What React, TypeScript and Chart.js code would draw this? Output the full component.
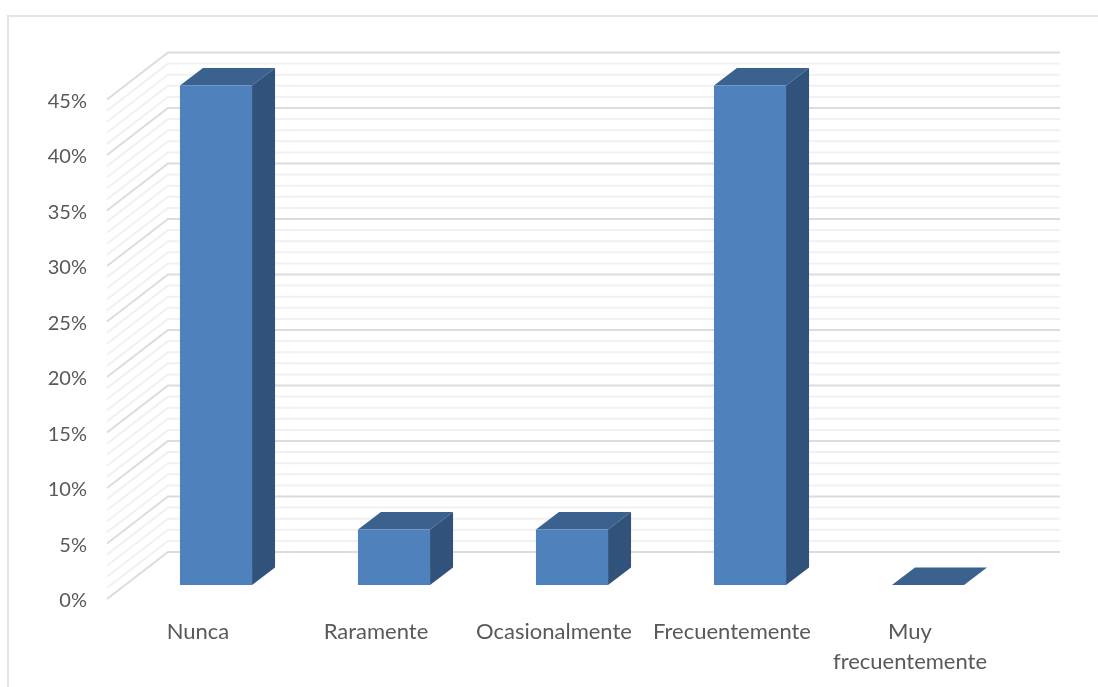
import React, { useEffect, useRef } from "react";
import { Chart, registerables } from "chart.js";

Chart.register(...registerables);

const categories = ["Nunca", "Raramente", "Ocasionalmente", "Frecuentemente", ["Muy", "frecuentemente"]];
const shares = [45, 5, 5, 45, 0];
const axisMax = 45;
const majorStep = 5;

const FONT = "Lato, 'Open Sans', sans-serif";
const WALL_X = -2;
const WALL_Y = -2;
const WALL_DX = 61;
const WALL_DY = -47;
const BAR_DX = 18;
const BAR_DY = -16;
const DEPTH_DX = 23;
const DEPTH_DY = -17.5;

// Back and side walls of the 3D plot, with a line for every percentage point.
const wallsPlugin = {
  id: "walls",
  beforeDatasetsDraw(chart: any) {
    const { ctx, chartArea, scales } = chart;
    const left = chartArea.left + WALL_X;
    const right = chartArea.right + WALL_X;
    ctx.save();
    for (let v = 0; v <= axisMax; v++) {
      const y = scales.y.getPixelForValue(v) + WALL_Y;
      const major = v % majorStep === 0;
      ctx.strokeStyle = major ? "#dcdcdc" : "#f1f1f1";
      ctx.lineWidth = 2;
      ctx.beginPath();
      ctx.moveTo(left, y);
      ctx.lineTo(left + WALL_DX, y + WALL_DY);
      ctx.lineTo(right + WALL_DX + 2, y + WALL_DY);
      ctx.stroke();
    }
    ctx.restore();
  },
};

// Shifts the bars into the depth of the plot and adds their top and side faces.
const extrudePlugin = {
  id: "extrude",
  beforeDatasetDraw(chart: any) {
    const { ctx } = chart;
    ctx.save();
    ctx.translate(BAR_DX, BAR_DY);
    chart.getDatasetMeta(0).data.forEach((bar: any) => {
      const { x, y, base, width } = bar.getProps(["x", "y", "base", "width"], true);
      const l = x - width / 2;
      const r = x + width / 2;
      ctx.fillStyle = "#3b618f";
      ctx.beginPath();
      ctx.moveTo(l, y);
      ctx.lineTo(l + DEPTH_DX, y + DEPTH_DY);
      ctx.lineTo(r + DEPTH_DX, y + DEPTH_DY);
      ctx.lineTo(r, y);
      ctx.closePath();
      ctx.fill();
      if (base > y) {
        ctx.fillStyle = "#31527b";
        ctx.beginPath();
        ctx.moveTo(r, y);
        ctx.lineTo(r + DEPTH_DX, y + DEPTH_DY);
        ctx.lineTo(r + DEPTH_DX, base + DEPTH_DY);
        ctx.lineTo(r, base);
        ctx.closePath();
        ctx.fill();
      }
    });
  },
  afterDatasetDraw(chart: any) {
    chart.ctx.restore();
  },
};

export default function App() {
  const ref = useRef<HTMLCanvasElement>(null);

  useEffect(() => {
    const chart = new Chart(ref.current!, {
      type: "bar",
      data: {
        labels: categories as any,
        datasets: [
          {
            data: shares,
            backgroundColor: "#4f81bd",
            borderWidth: 0,
            categoryPercentage: 1,
            barPercentage: 0.405,
            clip: false,
          } as any,
        ],
      },
      options: {
        animation: false,
        responsive: false,
        layout: { padding: { top: 101.5, right: 99, bottom: 0, left: 0 } },
        plugins: { legend: { display: false }, tooltip: { enabled: false } },
        scales: {
          x: {
            grid: { display: false },
            border: { display: false },
            afterFit: (s: any) => {
              s.height = 86;
            },
            ticks: {
              color: "#595959",
              font: { family: FONT, size: 22, lineHeight: 1.36 },
              padding: 8,
              maxRotation: 0,
              autoSkip: false,
            },
          },
          y: {
            min: 0,
            max: axisMax,
            grid: { display: false, drawTicks: false },
            border: { display: false },
            afterFit: (s: any) => {
              s.width = 109;
            },
            ticks: {
              stepSize: 1,
              autoSkip: false,
              color: "#595959",
              font: { family: FONT, size: 20 },
              padding: 22,
              callback: (v: any) => (Number(v) % majorStep === 0 ? `${v}%` : ""),
            },
          },
        },
      },
      plugins: [wallsPlugin, extrudePlugin],
    } as any);
    return () => chart.destroy();
  }, []);

  return (
    <div style={{ position: "absolute", left: 0, top: 0, width: 1098, height: 687, background: "#fff", overflow: "hidden" }}>
      <div
        style={{
          position: "absolute",
          left: 7,
          top: 15,
          right: -4,
          bottom: -4,
          border: "2px solid #e4e4e4",
        }}
      />
      <canvas ref={ref} width={1098} height={687} style={{ position: "absolute", left: 0, top: 0 }} />
    </div>
  );
}
